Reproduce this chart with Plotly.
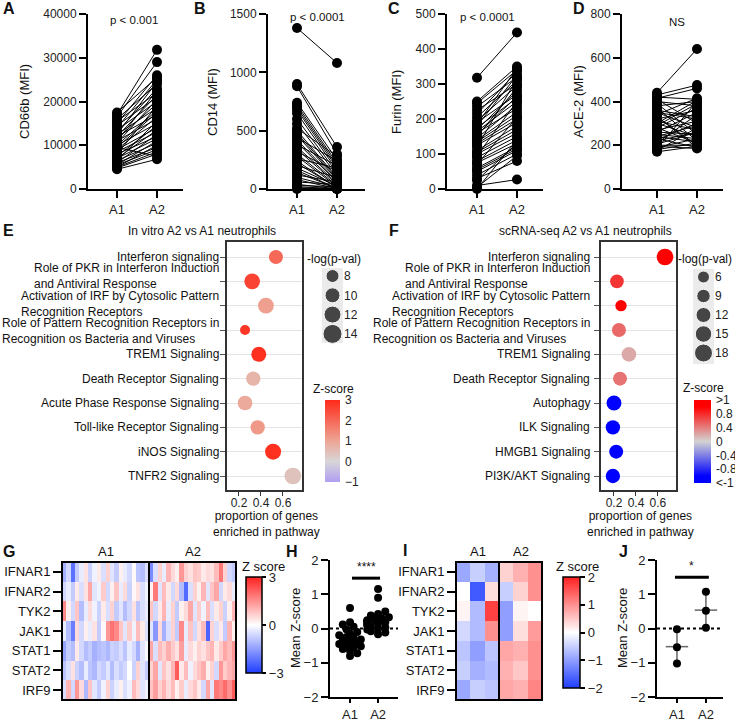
import plotly.graph_objects as go

W, H = 735, 720
FONT = "Liberation Sans, Arial, Helvetica, sans-serif"


def px_x(a, b):
    return [a / W, b / W]


def px_y(top, bottom):
    return [1 - bottom / H, 1 - top / H]


def fx(p):
    return p / W


def fy(p):
    return 1 - p / H


# ---------------- DATA ----------------
groups = ["A1", "A2"]

cd66b_a1 = [17500, 17000, 16500, 16000, 15500, 15000, 14500, 14000, 13500, 13000, 12500, 12000, 12000, 11500,
            11000, 11000, 10500, 10000, 10000, 9500, 9000, 9000, 8500, 8000, 8000, 7500, 7000, 7000, 6500, 6500,
            6000, 6000, 5500, 5500, 5000, 5000, 4800, 4500, 12500, 9500]
cd66b_a2 = [25500, 31800, 29000, 24000, 22000, 26000, 21000, 25000, 20000, 23000, 18500, 21500, 17000, 19500,
            22500, 16000, 20500, 15000, 18000, 17500, 14000, 16500, 13000, 19000, 12000, 14500, 11500, 13500,
            10500, 15500, 9500, 12500, 9000, 11000, 8500, 10000, 8000, 6800, 24500, 7500]

cd14_a1 = [1380, 900, 880, 740, 720, 700, 680, 650, 600, 560, 520, 500, 480, 460, 440, 420, 400, 380, 360, 340,
           320, 300, 280, 260, 240, 220, 200, 180, 160, 140, 120, 100, 80, 60, 40, 30, 20, 10, 5, 0]
cd14_a2 = [1080, 360, 300, 250, 220, 200, 180, 160, 140, 120, 280, 100, 90, 80, 240, 70, 60, 200, 50, 40,
           150, 30, 20, 180, 10, 15, 100, 25, 5, 8, 60, 12, 3, 40, 2, 20, 1, 5, 0, 0]

furin_a1 = [318, 250, 245, 235, 225, 215, 205, 195, 190, 180, 175, 170, 165, 160, 150, 145, 140, 135, 130, 125,
            120, 110, 105, 100, 95, 90, 80, 75, 70, 60, 55, 50, 40, 30, 25, 10, 5, 0, 185, 155]
furin_a2 = [447, 350, 340, 320, 300, 335, 310, 295, 270, 325, 260, 280, 250, 230, 290, 240, 220, 210, 200, 190,
            315, 180, 170, 160, 250, 150, 140, 130, 205, 120, 115, 110, 100, 80, 130, 27, 95, 140, 345, 265]

ace2_a1 = [440, 430, 420, 410, 400, 390, 380, 370, 360, 350, 340, 330, 320, 310, 300, 290, 280, 270, 260, 250,
           240, 230, 220, 210, 200, 195, 190, 185, 180, 175, 170, 350, 300, 260, 225, 330, 280, 240, 205, 415]
ace2_a2 = [640, 475, 410, 300, 380, 250, 400, 220, 330, 280, 415, 200, 360, 270, 240, 390, 210, 310, 350, 230,
           290, 190, 260, 340, 200, 185, 230, 400, 210, 280, 195, 320, 405, 250, 300, 190, 370, 215, 260, 460]

# Panel E
E_paths = ["Interferon signaling",
           "Role of PKR in Interferon Induction<br>and Antiviral Response",
           "Activation of IRF by Cytosolic Pattern<br>Recognition Receptors",
           "Role of Pattern Recognition Receptors in<br>Recognition os Bacteria and Viruses",
           "TREM1 Signaling", "Death Receptor Signaling", "Acute Phase Response Signaling",
           "Toll-like Receptor Signaling", "iNOS Signaling", "TNFR2 Signaling"]
E_prop = [0.536, 0.32, 0.445, 0.255, 0.38, 0.33, 0.255, 0.37, 0.51, 0.69]
E_logp = [9, 10.7, 10.7, 5, 10, 9.3, 9.7, 9.3, 11, 11.7]
E_z = [2.0, 2.6, 1.1, 2.8, 2.9, 0.7, 0.9, 1.2, 2.9, 0.4]
E_legend = [8, 10, 12, 14]

# Panel F
F_paths = ["Interferon signaling",
           "Role of PKR in Interferon Induction<br>and Antiviral Response",
           "Activation of IRF by Cytosolic Pattern<br>Recognition Receptors",
           "Role of Pattern Recognition Receptors in<br>Recognition os Bacteria and Viruses",
           "TREM1 Signaling", "Death Receptor Signaling", "Autophagy", "ILK Signaling",
           "HMGB1 Signaling", "PI3K/AKT Signaling"]
F_prop = [0.664, 0.227, 0.264, 0.245, 0.336, 0.255, 0.2, 0.19, 0.22, 0.19]
F_logp = [15.3, 9.3, 4.7, 10, 11.3, 10, 12, 10.7, 10, 10.7]
F_z = [1.2, 0.75, 1.0, 0.5, 0.2, 0.45, -1.2, -1.2, -1.2, -1.2]
F_legend = [6, 9, 12, 15, 18]
F_ticks = [1.2, 0.8, 0.4, 0, -0.4, -0.8, -1.2]
F_ticktext = [">1", "0.8", "0.4", "0", "-0.4", "-0.8", "<-1"]

# Panel G heatmap
genes = ["IFNAR1", "IFNAR2", "TYK2", "JAK1", "STAT1", "STAT2", "IRF9"]
G_A1 = [
    [-1.2, -0.6, -2.2, -0.8, -0.3, 0.4, -0.7, -0.2, 0.3, -0.5, 0.6, -0.4, -0.8, 0.2, -0.3, -0.6, 0.1, -0.9, -1.0, -0.5],
    [-0.6, -0.3, -0.8, 0.3, -0.5, 0.4, 1.2, -0.4, -0.2, 0.7, -0.6, 0.2, 0.8, -0.3, 0.5, -0.7, 0.1, 0.4, -0.5, -0.2],
    [1.6, 0.2, -0.6, 0.8, -1.0, -0.3, 0.5, -0.2, -0.7, 0.3, -0.5, 0.6, -0.8, -0.4, -1.0, -0.6, 0.4, -0.9, -0.5, -0.3],
    [-0.3, -1.0, -2.0, 0.5, -0.6, 0.2, -0.3, 0.4, -0.8, 0.1, 1.4, 1.9, 1.6, 0.8, -0.4, 0.7, -0.2, 0.9, 0.3, -0.5],
    [-1.4, -0.8, -1.0, 0.3, -0.6, -1.0, -0.8, -1.2, -1.0, -0.9, -1.1, -0.7, -0.8, -0.5, -0.9, -0.3, -0.6, -1.2, -0.4, -0.1],
    [-0.9, -0.5, 0.4, -0.7, -1.0, -0.3, -0.9, -1.1, -0.6, -0.8, -0.4, -1.0, -0.5, -0.8, -0.6, 0.0, -0.7, 0.6, -0.4, -0.8],
    [-0.5, 1.0, -0.6, 1.4, 0.5, -1.1, 0.8, -0.4, -0.8, -0.2, 0.6, -0.7, -0.3, 0.2, -0.5, -0.2, 0.9, 0.5, -0.4, -0.2],
]
G_A2 = [
    [-1.8, -0.5, 0.6, -0.3, 1.0, 0.5, 0.2, 1.4, 0.6, 0.4, 0.8, 0.7, 0.3, 0.5, 0.4, 0.9, 1.8, 0.6, -0.6, -0.8],
    [0.2, 1.8, -0.4, 0.9, 0.3, -0.6, 0.5, -1.0, -2.3, -0.5, 0.6, 0.2, 1.0, -0.4, 0.8, 1.2, -0.6, 0.3, 0.5, -0.3],
    [0.8, -0.6, 0.3, 1.0, -0.3, 0.6, -0.8, 0.2, 0.5, 1.2, -0.4, 0.7, -0.2, 0.9, -0.5, 0.3, 0.6, -0.7, 0.2, 1.0],
    [-0.4, -1.6, 0.5, -1.2, -0.5, 0.6, -0.8, 1.6, -0.3, 0.8, -0.6, 0.4, 0.9, -2.4, 0.6, -0.5, 0.3, -0.8, 1.0, 0.2],
    [1.2, -0.5, 0.9, 0.6, 1.1, 0.7, 0.4, 1.3, -0.3, 0.5, 0.2, 0.6, 0.4, 0.8, 1.0, 0.3, 0.7, 1.2, 0.9, 1.4],
    [0.6, 1.2, -0.4, 0.8, 0.4, 1.0, 2.2, 0.3, 0.9, -0.2, 0.5, 0.8, 1.1, 0.2, 0.6, -0.6, 1.4, 0.7, 1.0, 1.2],
    [0.8, 1.3, 0.6, 1.0, 0.5, 0.9, 0.2, 0.7, -0.3, 0.5, 0.8, 0.3, -0.6, 1.2, -0.4, 1.8, 1.6, 2.0, 1.5, 2.2],
]

# Panel H
H_A1 = [0.6, 0.18, 0.12, 0.05, -0.02, -0.1, -0.15, -0.2, -0.25, -0.28, -0.32, -0.35, -0.4, -0.42, -0.45, -0.5,
        -0.52, -0.55, -0.6, -0.65, -0.72, -0.8]
H_A2 = [1.15, 0.9, 0.5, 0.42, 0.38, 0.33, 0.3, 0.27, 0.24, 0.2, 0.18, 0.15, 0.12, 0.1, 0.07, 0.03, 0.0, -0.03,
        -0.08, -0.12, -0.17, 0.22]

# Panel I heatmap
I_A1 = [[-0.9, -0.5, -0.8], [0.0, -1.7, 0.3], [0.1, -0.7, 1.7], [-0.4, -0.7, 1.0],
        [-0.6, -1.0, -0.6], [-0.5, -0.8, -0.7], [-0.9, -0.5, -0.6]]
I_A2 = [[0.4, 0.7, 1.0], [-0.5, 0.4, 1.0], [-1.0, 0.1, 0.0], [-1.0, 0.3, 0.9],
        [0.8, 0.7, 1.0], [0.7, 0.5, 1.0], [0.8, 0.7, 1.1]]

# Panel J
J_A1 = [-0.02, -0.55, -1.02]
J_A2 = [1.07, 0.52, 0.02]

# style: vertical nudges (px) of the pathway label blocks
LABEL_SHIFT = [0, 5.5, 1.5, -1, 0, 0, 0, 0, 0, 0]

# ---------------- FIGURE ----------------
fig = go.Figure()
layout = {}
annotations = []
shapes = []

AX = dict(showline=True, linecolor="black", linewidth=2, ticks="outside", ticklen=7, tickwidth=2,
          tickcolor="black", showgrid=False, zeroline=False,
          tickfont=dict(size=12, color="#222", family=FONT), fixedrange=True)


def ann(text, x, y, size=12, bold=False, **kw):
    d = dict(text=("<b>%s</b>" % text) if bold else text, x=fx(x), y=fy(y), xref="paper", yref="paper",
             xanchor="center", yanchor="middle", showarrow=False,
             font=dict(size=size, family=FONT, color="#111"))
    d.update(kw)
    annotations.append(d)


def names(i):
    return ("x" if i == 1 else "x%d" % i), ("y" if i == 1 else "y%d" % i), \
           ("xaxis" if i == 1 else "xaxis%d" % i), ("yaxis" if i == 1 else "yaxis%d" % i)


def paired(i, a1, a2, ymax, dtick, xl, xr, xrange, ytitle, ytitle_x, ptext, px, py, letter, lx):
    xa, ya, xk, yk = names(i)
    xs, ys = [], []
    for u, v in zip(a1, a2):
        xs += [1, 2, None]
        ys += [u, v, None]
    fig.add_trace(go.Scatter(x=xs, y=ys, mode="lines", line=dict(color="black", width=1),
                             xaxis=xa, yaxis=ya, hoverinfo="skip", cliponaxis=False, showlegend=False))
    fig.add_trace(go.Scatter(x=[1] * len(a1) + [2] * len(a2), y=a1 + a2, mode="markers",
                             marker=dict(size=10, color="black"), xaxis=xa, yaxis=ya,
                             cliponaxis=False, showlegend=False))
    layout[xk] = dict(AX, domain=px_x(xl, xr), range=xrange, anchor=ya, tickvals=[1, 2], ticktext=groups,
                      tickfont=dict(size=13, color="#222", family=FONT))
    layout[yk] = dict(AX, domain=px_y(14, 189), range=[0, ymax], dtick=dtick, tickformat="d", anchor=xa)
    ann(ytitle, ytitle_x, 102, size=13, textangle=-90)
    ann(ptext, px, py, size=11.5)
    ann(letter, lx, 9, size=16, bold=True, xanchor="left")


paired(1, cd66b_a1, cd66b_a2, 40000, 10000, 88, 183, [0.275, 2.65], "CD66b (MFI)", 25, "p &lt; 0.001", 134, 20, "A", 1)
paired(2, cd14_a1, cd14_a2, 1500, 500, 268, 365, [0.275, 2.7], "CD14 (MFI)", 213, "p &lt; 0.0001", 317, 17, "B", 192)
paired(3, furin_a1, furin_a2, 500, 100, 447, 543, [0.25, 2.65], "Furin (MFI)", 397, "p &lt; 0.0001", 487, 17, "C", 386)
paired(4, ace2_a1, ace2_a2, 800, 200, 622, 723, [0.125, 2.65], "ACE-2 (MFI)", 579, "NS", 677, 22, "D", 571)

# ---- pathway dot plots ----
E_scale = [[0, "#b09ef2"], [0.25, "#d8d6d8"], [0.5, "#eda595"], [1, "#ff2a1a"]]
F_scale = [[0, "#0000ff"], [1 / 12, "#0000ff"], [0.5, "#d3d3d3"], [11 / 12, "#ff0000"], [1, "#ff0000"]]

BOX = dict(showline=True, mirror=True, linecolor="#333", linewidth=1.5, zeroline=False, fixedrange=True,
           tickfont=dict(size=12, color="#222", family=FONT))


def dotpanel(i, li, paths, prop, logp, z, size_fn, scale, cmin, cmax, cbar, xl, xr, xrange, label_right,
             leg_vals, leg_box, title, title_x, letter, letter_x, leg_title_x):
    xa, ya, xk, yk = names(i)
    n = len(paths)
    fig.add_trace(go.Scatter(
        x=prop, y=list(range(n)), mode="markers", xaxis=xa, yaxis=ya, showlegend=False, cliponaxis=False,
        marker=dict(size=[size_fn(v) for v in logp], color=z, colorscale=scale, cmin=cmin, cmax=cmax,
                    line=dict(width=0), opacity=1, colorbar=cbar)))
    layout[xk] = dict(BOX, domain=px_x(xl, xr), range=xrange, anchor=ya, tickvals=[0.2, 0.4, 0.6],
                      ticks="outside", ticklen=4, tickcolor="#333", showgrid=False, ticklabelstandoff=-3)
    layout[yk] = dict(BOX, domain=px_y(242, 490), range=[n - 1 + 14 / 24.33, -15 / 24.33], anchor=xa,
                      tickvals=list(range(n)), ticktext=[""] * n, ticks="outside", ticklen=5,
                      tickcolor="#555", showgrid=True, gridcolor="#e4e4e4", gridwidth=1)
    for k, lab in enumerate(paths):
        annotations.append(dict(text=lab, x=fx(label_right), xref="paper", xanchor="right", y=k, yref=ya,
                                yanchor="middle", align="left", showarrow=False, yshift=LABEL_SHIFT[k],
                                font=dict(size=12, family=FONT, color="#111")))
    ann(title, title_x, 231, size=12)
    ann(letter, letter_x, 231, size=16, bold=True, xanchor="left")
    ann("proportion of genes<br>enriched in pathway", (xl + xr) / 2 + 2, 524, size=12)
    # size legend
    lxa, lya, lxk, lyk = names(li)
    m = len(leg_vals)
    top, bottom, step, first = leg_box[2], leg_box[3], leg_box[4], leg_box[5]
    fig.add_trace(go.Scatter(x=[0] * m, y=list(range(m)), mode="markers", xaxis=lxa, yaxis=lya,
                             marker=dict(size=[size_fn(v) for v in leg_vals], color="black"),
                             showlegend=False, cliponaxis=False))
    layout[lxk] = dict(domain=px_x(leg_box[0], leg_box[1]), range=[-1, 1], visible=False, anchor=lya,
                       fixedrange=True)
    layout[lyk] = dict(domain=px_y(top, bottom), range=[(bottom - first) / step, -(first - top) / step],
                       anchor=lxa, side="right", tickvals=list(range(m)), ticktext=[str(v) for v in leg_vals],
                       showgrid=False, zeroline=False, showline=False, ticks="", fixedrange=True,
                       tickfont=dict(size=12, color="#222", family=FONT))
    shapes.append(dict(type="rect", xref=lxa + " domain", yref=lya + " domain", x0=0, x1=1, y0=0, y1=1,
                       fillcolor="#ebebeb", line=dict(width=0), layer="below"))
    ann("-log(p-val)", leg_title_x, 259, size=12)


cbE = dict(x=fx(325), xanchor="left", y=fy(400), yanchor="top", len=82, lenmode="pixels", thickness=15,
           thicknessmode="pixels", xpad=0, ypad=0, outlinewidth=0, tickvals=[-1, 0, 1, 2, 3], ticks="outside",
           ticklen=3, tickcolor="rgba(0,0,0,0)", ticklabeloverflow="allow",
           tickfont=dict(size=12, color="#222", family=FONT))
cbF = dict(x=fx(694), xanchor="left", y=fy(400), yanchor="top", len=83, lenmode="pixels", thickness=17,
           thicknessmode="pixels", xpad=0, ypad=0, outlinewidth=0, ticklabeloverflow="allow",
           tickvals=F_ticks, ticktext=F_ticktext, ticks="outside", ticklen=3, tickcolor="rgba(0,0,0,0)",
           tickfont=dict(size=12, color="#222", family=FONT))

dotpanel(5, 6, E_paths, E_prop, E_logp, E_z, lambda v: 5 + v, E_scale, -1, 3, cbE, 227, 302, [0.091, 0.773],
         221, E_legend, (322, 343, 268, 343, 19.3, 276), "In vitro A2 vs A1 neutrophils", 202, "E", 1, 334)
dotpanel(7, 8, F_paths, F_prop, F_logp, F_z, lambda v: 9 + 0.5 * v, F_scale, -1.2, 1.2, cbF, 601, 676,
         [0.082, 0.764], 592, F_legend, (693, 714, 269, 364, 19, 277), "scRNA-seq A2 vs A1 neutrophils", 585,
         "F", 387, 705)
ann("Z-score", 333, 389, size=12)
ann("Z-score", 703, 388, size=12)

# ---- heatmaps ----
HM_scale = [[0, "#1f3dff"], [0.5, "#ffffff"], [1, "#ff2020"]]


def heatpanel(i, a1, a2, zlim, xl, xr, cbar, letter, letter_x, letter_y):
    xa, ya, xk, yk = names(i)
    rows = [r1 + r2 for r1, r2 in zip(a1, a2)]
    n1, n2 = len(a1[0]), len(a2[0])
    fig.add_trace(go.Heatmap(z=rows, x=list(range(n1 + n2)), y=list(range(len(genes))), colorscale=HM_scale,
                             zmin=-zlim, zmax=zlim, xaxis=xa, yaxis=ya, colorbar=cbar, showscale=True))
    layout[xk] = dict(domain=px_x(xl, xr), range=[-0.5, n1 + n2 - 0.5], visible=False, anchor=ya,
                      fixedrange=True)
    layout[yk] = dict(domain=px_y(562, 700), range=[len(genes) - 0.5, -0.5], anchor=xa,
                      tickvals=list(range(len(genes))), ticktext=genes, ticks="outside", ticklen=8, tickwidth=2,
                      tickcolor="black", showline=False, showgrid=False, zeroline=False, fixedrange=True,
                      tickfont=dict(size=13, color="#111", family=FONT))
    shapes.append(dict(type="rect", xref=xa + " domain", yref=ya + " domain", x0=0, x1=1, y0=0, y1=1,
                       line=dict(color="black", width=2)))
    shapes.append(dict(type="line", xref=xa, yref=ya + " domain", x0=n1 - 0.5, x1=n1 - 0.5, y0=0, y1=1,
                       line=dict(color="black", width=2)))
    for g, cx in zip(groups, [(n1 - 1) / 2, n1 + (n2 - 1) / 2]):
        annotations.append(dict(text=g, x=cx, xref=xa, xanchor="center", y=1, yref=ya + " domain",
                                yanchor="bottom", yshift=1, showarrow=False,
                                font=dict(size=13, family=FONT, color="#111")))
    ann(letter, letter_x, letter_y, size=16, bold=True, xanchor="left")


cbG = dict(x=fx(246), xanchor="left", y=fy(577), yanchor="top", len=96, lenmode="pixels", thickness=16,
           thicknessmode="pixels", xpad=0, ypad=0, outlinewidth=1.5, outlinecolor="black",
           tickvals=[3, 0, -3], ticks="outside", ticklen=4, tickwidth=2, tickcolor="black",
           ticklabeloverflow="allow", tickfont=dict(size=13, color="#222", family=FONT))
cbI = dict(x=fx(563), xanchor="left", y=fy(577), yanchor="top", len=111, lenmode="pixels", thickness=17,
           thicknessmode="pixels", xpad=0, ypad=0, outlinewidth=1.5, outlinecolor="black",
           tickvals=[2, 1, 0, -1, -2], ticks="outside", ticklen=5, tickwidth=2, tickcolor="black",
           ticklabeloverflow="allow", tickfont=dict(size=13, color="#222", family=FONT))
heatpanel(9, G_A1, G_A2, 3, 62, 236, cbG, "G", 1, 551)
heatpanel(11, I_A1, I_A2, 2, 456, 542, cbI, "I", 401, 550)
ann("Z score", 263, 566, size=13)
ann("Z score", 577, 566, size=13)


# ---- mean Z-score panels ----
def beeswarm(vals, center, xscale, yscale, diam=8.0):
    placed = []
    out = [0.0] * len(vals)
    for i in sorted(range(len(vals)), key=lambda k: vals[k]):
        ypx = vals[i] * yscale
        xpx = 0.0
        for k in [0, 1, -1, 2, -2, 3, -3]:
            xpx = k * diam * 0.45
            if all((xpx - a) ** 2 + (ypx - b) ** 2 >= (diam * 0.6) ** 2 for a, b in placed):
                break
        placed.append((xpx, ypx))
        out[i] = center + xpx / xscale
    return out


def meanpanel(i, a1, a2, xl, xr, xrange, sig, sig_x, letter, letter_x, title_x, summary):
    xa, ya, xk, yk = names(i)
    xscale = (xr - xl) / (xrange[1] - xrange[0])
    yscale = 137 / 4
    if summary:
        means = [sum(a1) / len(a1), sum(a2) / len(a2)]
        fig.add_trace(go.Scatter(
            x=[1, 2], y=means, mode="markers", xaxis=xa, yaxis=ya, showlegend=False, cliponaxis=False,
            marker=dict(symbol="line-ew", size=16, line=dict(color="#666", width=1.5)),
            error_y=dict(type="data", symmetric=False, array=[max(a1) - means[0], max(a2) - means[1]],
                         arrayminus=[means[0] - min(a1), means[1] - min(a2)], color="#666", thickness=1.5,
                         width=4)))
        xs = [1] * len(a1) + [2] * len(a2)
    else:
        xs = beeswarm(a1, 1, xscale, yscale) + beeswarm(a2, 2, xscale, yscale)
    fig.add_trace(go.Scatter(x=xs, y=a1 + a2, mode="markers", marker=dict(size=8, color="black"),
                             xaxis=xa, yaxis=ya, showlegend=False, cliponaxis=False))
    layout[xk] = dict(AX, domain=px_x(xl, xr), range=xrange, anchor=ya, tickvals=[1, 2], ticktext=groups,
                      ticklen=4, tickfont=dict(size=13, color="#222", family=FONT))
    layout[yk] = dict(AX, domain=px_y(560, 697), range=[-2, 2], dtick=1, anchor=xa,
                      tickfont=dict(size=13, color="#222", family=FONT))
    shapes.append(dict(type="line", xref=xa + " domain", yref=ya, x0=0, x1=1, y0=0, y1=0,
                       line=dict(color="black", width=2, dash="dot")))
    shapes.append(dict(type="line", xref=xa, yref=ya, x0=sig_x[0], x1=sig_x[1], y0=sig_x[2], y1=sig_x[2],
                       line=dict(color="black", width=3)))
    annotations.append(dict(text=sig, x=(sig_x[0] + sig_x[1]) / 2, xref=xa, xanchor="center", y=sig_x[2],
                            yref=ya, yanchor="bottom", yshift=2, showarrow=False,
                            font=dict(size=12, family=FONT, color="#111")))
    ann("Mean Z-score", title_x, 628, size=13, textangle=-90)
    ann(letter, letter_x, 551, size=16, bold=True, xanchor="left")


meanpanel(10, H_A1, H_A2, 330, 398, [0.286, 2.71], "****", (1.07, 2.07, 1.47), "H", 284, 295, False)
meanpanel(12, J_A1, J_A2, 657, 723, [0.31, 2.59], "*", (0.93, 2.1, 1.5), "J", 617, 622, True)

layout.update(dict(width=W, height=H, margin=dict(l=0, r=0, t=0, b=0, pad=0, autoexpand=False),
                   paper_bgcolor="white", plot_bgcolor="white",
                   font=dict(family=FONT, color="#222", size=12),
                   annotations=annotations, shapes=shapes, showlegend=False))
fig.update_layout(**layout)
fig.write_html("out.html", config={"displayModeBar": False},
               post_script="document.body.style.margin='0px';document.body.style.overflow='hidden';")
